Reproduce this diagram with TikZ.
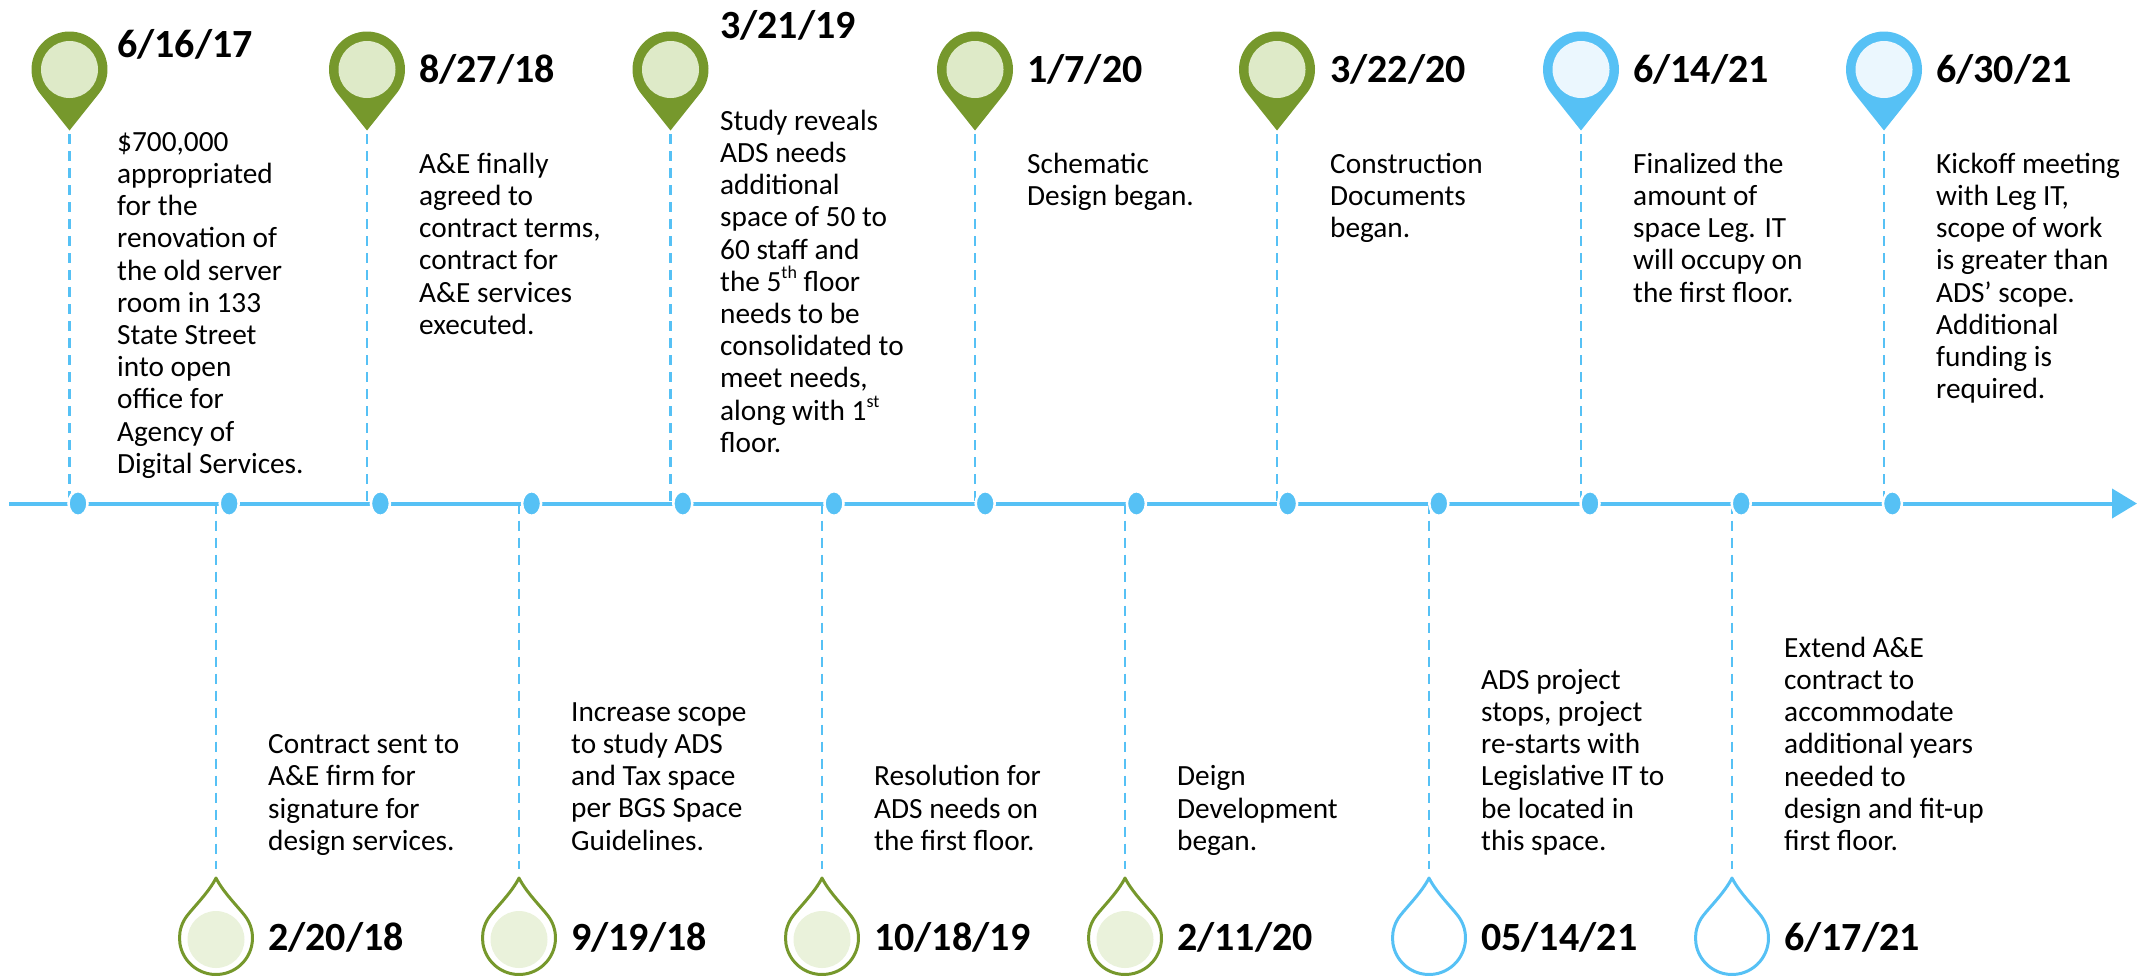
\documentclass[tikz,border=0pt]{standalone}
\usepackage{fontspec}
\setmainfont{Carlito}
\usetikzlibrary{arrows.meta,shapes.geometric}
\definecolor{greenD}{RGB}{118,152,44}
\definecolor{greenL}{RGB}{222,234,200}
\definecolor{greenM}{RGB}{234,242,219}
\definecolor{tlblue}{RGB}{86,193,245}
\definecolor{blueL}{RGB}{235,247,254}
\newcommand{\mysup}[1]{\raisebox{0.42em}{\fontsize{18pt}{18pt}\selectfont #1}}
% top pin: #1 name of tip coordinate, #2 x of centre, #3 outer colour, #4 inner colour
\newcommand{\TopPin}[4]{%
  \begin{scope}[shift={(#2,-69.5)}]
    \fill[#3] (0,-61) -- (-38.5:38) arc[start angle=-38.5, end angle=218.5, radius=38] -- cycle;
    \fill[#4] (0,0) circle[radius=28.5];
  \end{scope}
  \coordinate (#1) at (#2,-134);
}
% bottom drop: #1 name of tip coordinate, #2 x, #3 outline colour, #4 inner fill (or white)
\newcommand{\BotDrop}[4]{%
  \begin{scope}[shift={(#2,-938)}]
    \fill[#4] (0,-1.5) circle[radius=28.5];
    \draw[#3, line width=3pt, line join=round]
      (0,60) .. controls (7,46) and (21.6,31.7) .. (37.5:36.5)
      arc[start angle=37.5, end angle=-217.5, radius=36.5]
      .. controls (-21.6,31.7) and (-7,46) .. (0,60) -- cycle;
  \end{scope}
  \coordinate (#1) at (#2,-869);
}
\tikzset{
  timeline/.style={draw=tlblue, line width=4pt, -{Triangle[length=25pt,width=29pt]}},
  dashconn/.style={draw=tlblue, line width=2.3pt, dash pattern=on 10pt off 7pt},
  tldot/.style={ellipse, fill=tlblue, draw=white, line width=2.5pt, minimum width=19pt, minimum height=24.5pt, inner sep=0pt},
  datelbl/.style={anchor=base west, inner sep=0pt, font={\fontsize{40pt}{44pt}\selectfont\bfseries}},
  bodytxt/.style={anchor=north west, inner sep=0pt, align=left, font={\fontsize{29.3pt}{32.2pt}\selectfont}}
}
\begin{document}
\begin{tikzpicture}[x=1pt,y=1pt]
\useasboundingbox (0,0) rectangle (2138,-975);

% ---------- connectors (dashed) ----------
\foreach \n/\x in {0/69.5,2/367,4/670.5,6/975,8/1277,10/1581,12/1884}{
  \coordinate (c\n) at (\x,-134);
  \coordinate (b\n) at (\x,-503.5);
  \draw[dashconn] (c\n) -- (b\n);
}
\foreach \n/\x in {1/216,3/519,5/822,7/1125,9/1429,11/1732}{
  \coordinate (b\n) at (\x,-503.5);
  \coordinate (c\n) at (\x,-869);
  \draw[dashconn] (b\n) -- (c\n);
}

% ---------- timeline ----------
\coordinate (tlstart) at (9,-503.5);
\coordinate (tlend) at (2137,-503.5);
\draw[timeline] (tlstart) -- (tlend);
\foreach \i in {0,...,12}{
  \node[tldot] (d\i) at ({78+151.2*\i},-503.5) {};
}

% ---------- top pins ----------
\TopPin{p0}{69.5}{greenD}{greenL}
\TopPin{p2}{367}{greenD}{greenL}
\TopPin{p4}{670.5}{greenD}{greenL}
\TopPin{p6}{975}{greenD}{greenL}
\TopPin{p8}{1277}{greenD}{greenL}
\TopPin{p10}{1581}{tlblue}{blueL}
\TopPin{p12}{1884}{tlblue}{blueL}

% ---------- bottom drops ----------
\BotDrop{q1}{216}{greenD}{greenM}
\BotDrop{q3}{519}{greenD}{greenM}
\BotDrop{q5}{822}{greenD}{greenM}
\BotDrop{q7}{1125}{greenD}{greenM}
\BotDrop{q9}{1429}{tlblue}{white}
\BotDrop{q11}{1732}{tlblue}{white}

% ---------- top dates and texts ----------
\node[datelbl] (dt0) at (117,-57) {6/16/17};
\node[bodytxt] (tx0) at (117,-126) {\rule{0pt}{25pt}\$700,000\\appropriated\\for the\\renovation of\\the old server\\room in 133\\State Street\\into open\\office for\\Agency of\\Digital Services.};

\node[datelbl] (dt2) at (419,-82) {8/27/18};
\node[bodytxt] (tx2) at (419,-148) {\rule{0pt}{25pt}A\&E finally\\agreed to\\contract terms,\\contract for\\A\&E services\\executed.};

\node[datelbl] (dt4) at (720,-38) {3/21/19};
\node[bodytxt] (tx4) at (720,-105) {\rule{0pt}{25pt}Study reveals\\ADS needs\\additional\\space of 50 to\\60 staff and\\the 5\mysup{th} floor\\needs to be\\consolidated to\\meet needs,\\along with 1\mysup{st}\\floor.};

\node[datelbl] (dt6) at (1027,-82) {1/7/20};
\node[bodytxt] (tx6) at (1027,-148) {\rule{0pt}{25pt}Schematic\\Design began.};

\node[datelbl] (dt8) at (1330,-82) {3/22/20};
\node[bodytxt] (tx8) at (1330,-148) {\rule{0pt}{25pt}Construction\\Documents\\began.};

\node[datelbl] (dt10) at (1633,-82) {6/14/21};
\node[bodytxt] (tx10) at (1633,-148) {\rule{0pt}{25pt}Finalized the\\amount of\\space Leg. IT\\will occupy on\\the first floor.};

\node[datelbl] (dt12) at (1936,-82) {6/30/21};
\node[bodytxt] (tx12) at (1936,-148) {\rule{0pt}{25pt}Kickoff meeting\\with Leg IT,\\scope of work\\is greater than\\ADS’ scope.\\Additional\\funding is\\required.};

% ---------- bottom dates and texts ----------
\node[datelbl] (dt1) at (268,-950) {2/20/18};
\node[bodytxt] (tx1) at (268,-728.4) {\rule{0pt}{25pt}Contract sent to\\A\&E firm for\\signature for\\design services.};

\node[datelbl] (dt3) at (571,-950) {9/19/18};
\node[bodytxt] (tx3) at (571,-696) {\rule{0pt}{25pt}Increase scope\\to study ADS\\and Tax space\\per BGS Space\\Guidelines.};

\node[datelbl] (dt5) at (874,-950) {10/18/19};
\node[bodytxt] (tx5) at (874,-760.6) {\rule{0pt}{25pt}Resolution for\\ADS needs on\\the first floor.};

\node[datelbl] (dt7) at (1177,-950) {2/11/20};
\node[bodytxt] (tx7) at (1177,-760.6) {\rule{0pt}{25pt}Deign\\Development\\began.};

\node[datelbl] (dt9) at (1481,-950) {05/14/21};
\node[bodytxt] (tx9) at (1481,-664) {\rule{0pt}{25pt}ADS project\\stops, project\\re-starts with\\Legislative IT to\\be located in\\this space.};

\node[datelbl] (dt11) at (1784,-950) {6/17/21};
\node[bodytxt] (tx11) at (1784,-632) {\rule{0pt}{25pt}Extend A\&E\\contract to\\accommodate\\additional years\\needed to\\design and fit-up\\first floor.};
\end{tikzpicture}
\end{document}
